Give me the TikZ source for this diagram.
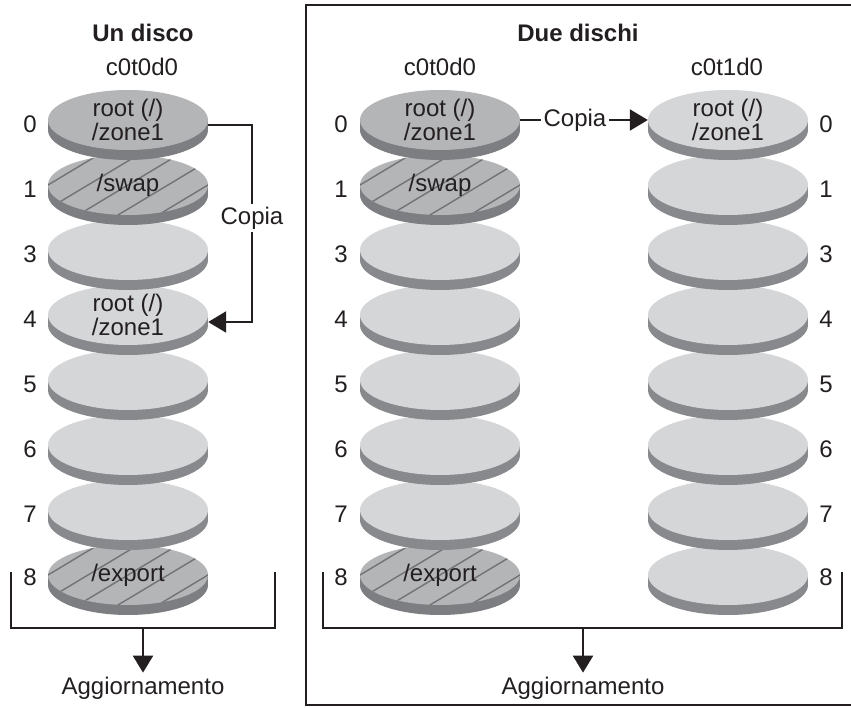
\documentclass[tikz,border=0pt]{standalone}
\usepackage{fontspec}
\setmainfont{Liberation Sans}
\usetikzlibrary{shapes.geometric,arrows.meta}
\definecolor{facedark}{HTML}{B4B5B7}
\definecolor{facelight}{HTML}{D5D6D8}
\definecolor{sidedark}{HTML}{7D7E81}
\definecolor{sidelight}{HTML}{88898C}
\definecolor{hatchgray}{HTML}{727376}
\definecolor{ink}{HTML}{231F20}
\newcommand\lblfont{\fontsize{24}{20.5}\selectfont}
\tikzset{
  face/.style={ellipse, minimum width=160pt, minimum height=60pt, inner sep=0pt},
  dark/.style={face, fill=facedark},
  light/.style={face, fill=facelight},
  hatched/.style={face, fill=facedark,
    path picture={\foreach \i in {-4,...,4}{
      \draw[hatchgray, line width=1.4pt]
        ([shift={(\i*40-70,42)}]path picture bounding box.center) -- ++(140,-84);}}},
  disktext/.style={font=\lblfont, align=center, text=ink, inner sep=0pt},
  num/.style={font=\lblfont, text=ink},
  title/.style={font=\lblfont\bfseries, text=ink},
  conn/.style={draw=ink, line width=2.4pt},
  tip/.style={-{Triangle[length=18pt,width=21pt]}},
  downtip/.style={-{Triangle[length=17pt,width=20pt]}},
}
% one platter of a disk: side band, bottom rim, top face with its text
\newcommand\platter[6]{%
  \fill[#5] (#2-80,#3) rectangle (#2+80,#3+10);
  \fill[#5] (#2,#3+10) ellipse [x radius=80, y radius=30];
  \node[#4, label={[disktext]center:{#6}}] (#1) at (#2,#3) {};
}
\begin{document}
\begin{tikzpicture}[x=1pt,y=-1pt]
\useasboundingbox (0,0) rectangle (851,708);
\fill[white] (0,0) rectangle (851,708);

% frame around the two-disk case
\draw[ink, line width=2.4pt] (306,5) rectangle (856,705);

% titles
\node[title] (tOne) at (143,33) {Un disco};
\node[title] (tTwo) at (578,33) {Due dischi};
\node[num] (dL) at (142,67) {c0t0d0};
\node[num] (dM) at (440,67) {c0t0d0};
\node[num] (dR) at (727,67) {c0t1d0};

% single disk, slices drawn bottom up
\platter{L8}{128}{575}{hatched}{sidedark}{/export}
\platter{L7}{128}{510}{light}{sidelight}{}
\platter{L6}{128}{445}{light}{sidelight}{}
\platter{L5}{128}{380}{light}{sidelight}{}
\platter{L4}{128}{315}{light}{sidelight}{root (/)\\/zone1}
\platter{L3}{128}{250}{light}{sidelight}{}
\platter{L1}{128}{185}{hatched}{sidedark}{/swap}
\platter{L0}{128}{120}{dark}{sidedark}{root (/)\\/zone1}

% first disk of the pair
\platter{M8}{440}{575}{hatched}{sidedark}{/export}
\platter{M7}{440}{510}{light}{sidelight}{}
\platter{M6}{440}{445}{light}{sidelight}{}
\platter{M5}{440}{380}{light}{sidelight}{}
\platter{M4}{440}{315}{light}{sidelight}{}
\platter{M3}{440}{250}{light}{sidelight}{}
\platter{M1}{440}{185}{hatched}{sidedark}{/swap}
\platter{M0}{440}{120}{dark}{sidedark}{root (/)\\/zone1}

% second disk of the pair
\platter{R8}{728}{575}{light}{sidelight}{}
\platter{R7}{728}{510}{light}{sidelight}{}
\platter{R6}{728}{445}{light}{sidelight}{}
\platter{R5}{728}{380}{light}{sidelight}{}
\platter{R4}{728}{315}{light}{sidelight}{}
\platter{R3}{728}{250}{light}{sidelight}{}
\platter{R1}{728}{185}{light}{sidelight}{}
\platter{R0}{728}{120}{light}{sidelight}{root (/)\\/zone1}

% slice numbers
\foreach \n/\y in {0/124,1/189,3/254,4/319,5/384,6/449,7/514,8/577}{
  \node[num] (nL\n) at (30,\y) {\n};
  \node[num] (nM\n) at (341,\y) {\n};
  \node[num] (nR\n) at (826,\y) {\n};
}

% copy within one disk
\draw[conn, tip] ([yshift=-5pt]L0.east) -- ++(44,0) |- ([yshift=-7pt]L4.east);
\node[num, fill=white, inner xsep=1pt, inner ysep=3pt] (cpL) at (252,218) {Copia};

% copy between the two disks
\draw[conn, tip] (M0.east) -- (R0.west);
\node[num, fill=white, inner xsep=3pt, inner ysep=0pt] (cpM) at (575,120) {Copia};

% upgrade brackets
\coordinate (lbA) at (11,572);
\coordinate (lbB) at (275,572);
\coordinate (lbM) at (143,628);
\draw[conn] (lbA) -- ++(0,56) -| (lbB);
\node[num, inner sep=4pt] (upL) at (143,688) {Aggiornamento};
\draw[conn, downtip] (lbM) -- (upL.north);

\coordinate (rbA) at (323,572);
\coordinate (rbB) at (842,572);
\coordinate (rbM) at (583,628);
\draw[conn] (rbA) -- ++(0,56) -| (rbB);
\node[num, inner sep=4pt] (upR) at (583,688) {Aggiornamento};
\draw[conn, downtip] (rbM) -- (upR.north);
\end{tikzpicture}
\end{document}
